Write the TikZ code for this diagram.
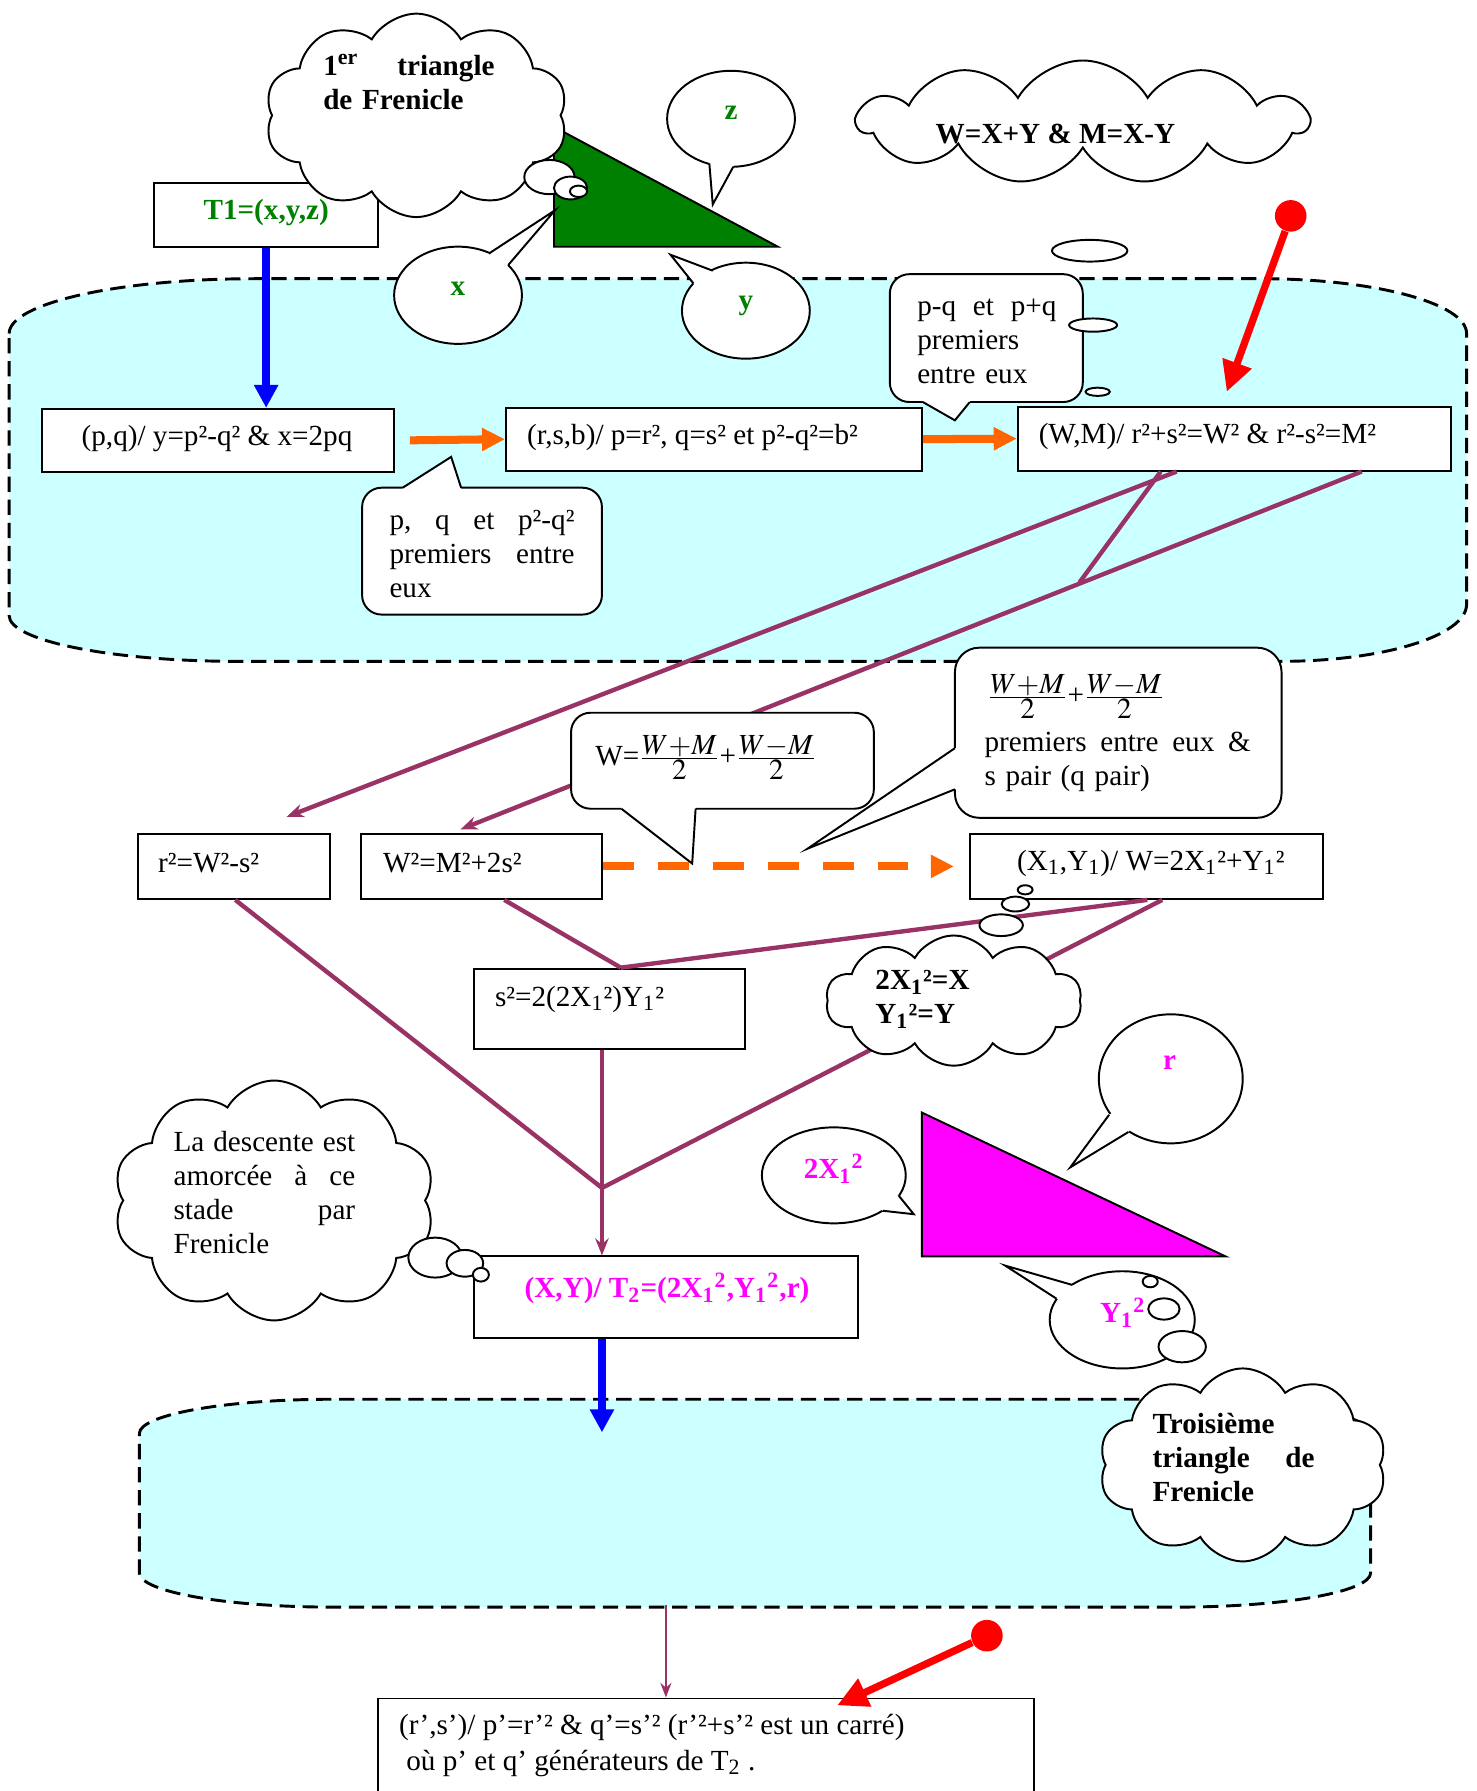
\documentclass[tikz,border=0pt]{standalone}
\usepackage{amsmath}
\usepackage{mathptmx}
\usepackage{fontspec}
\setmainfont{Liberation Serif}
\usetikzlibrary{arrows.meta,shapes.symbols,shapes.geometric,calc}

\definecolor{frgreen}{RGB}{0,128,0}
\definecolor{frmagenta}{RGB}{255,0,255}
\definecolor{frorange}{RGB}{255,102,0}
\definecolor{frpurple}{RGB}{153,51,102}
\definecolor{frcyan}{RGB}{204,255,255}

\newcommand{\halffrac}[1]{\frac{\textstyle #1}{\textstyle 2}}

\tikzset{
  zonefill/.style={fill=frcyan, draw, line width=1.2pt, dash pattern=on 6.3pt off 3.2pt},
  boxnode/.style={draw, fill=white, line width=0.8pt, inner sep=0pt},
  calloutnode/.style={draw, fill=white, line width=0.8pt, inner sep=0pt, rounded corners=8pt},
  speechnode/.style={ellipse, draw, fill=white, line width=0.8pt, inner sep=0pt},
  cloudnode/.style={cloud, cloud puffs=10, cloud puff arc=120, cloud ignores aspect, draw, fill=white, line width=0.8pt, inner sep=0pt},
  bubblepath/.style={draw, fill=white, line width=0.8pt},
  tailcover/.style={fill=white},
  tailline/.style={line width=0.8pt},
  plaintext/.style={inner sep=0pt, font=\fontsize{12}{14}\selectfont},
  boldtext/.style={inner sep=0pt, font=\fontsize{12}{14}\selectfont\bfseries},
  linkline/.style={frpurple, line width=1.8pt},
  linkarrow/.style={linkline, -{Stealth[length=7pt,width=5.5pt]}},
  bluearrow/.style={blue, line width=3pt, -{Triangle[length=9.5pt,width=9.5pt]}},
  orangearrow/.style={frorange, line width=3.3pt, -{Triangle[length=9.5pt,width=9pt]}},
  redarrow/.style={red, line width=3pt, -{Triangle[length=12.5pt,width=12pt]}},
  reddot/.style={circle, fill=red, inner sep=0pt, minimum size=13pt}
}

\begin{document}
\begin{tikzpicture}[x=0.47pt, y=-0.47pt]
\useasboundingbox (0,0) rectangle (1293,1568);

% draw the two light blue zones
\draw[zonefill] (8,292) .. controls (8,265.5) and (104,244) .. (223,244) -- (1104,244)
  .. controls (1203,244) and (1284,265.5) .. (1284,292) -- (1284,529)
  .. controls (1284,556.6) and (1211,579) .. (1121,579) -- (208,579)
  .. controls (98,579) and (8,561) .. (8,539) -- cycle;
\draw[zonefill] (122,1255) .. controls (122,1238.4) and (198,1225) .. (292,1225) -- (1030,1225)
  .. controls (1124,1225) and (1200,1238.4) .. (1200,1255) -- (1200,1377)
  .. controls (1200,1393.6) and (1124,1407) .. (1030,1407) -- (292,1407)
  .. controls (198,1407) and (122,1393.6) .. (122,1377) -- cycle;
\coordinate (zoneTop) at (527,1254);
\coordinate (zoneBot) at (583,1405);

% draw the boxes
\node[boxnode, minimum width=92.1pt, minimum height=26.3pt] (bT1) at (233,188) {};
\node[boxnode, minimum width=144.8pt, minimum height=25.9pt] (bPQ) at (191,385.5) {};
\node[boxnode, minimum width=171.1pt, minimum height=25.9pt] (bRSB) at (625,384.5) {};
\node[boxnode, minimum width=178.1pt, minimum height=26.3pt] (bWM) at (1080.5,384) {};
\node[boxnode, minimum width=79pt, minimum height=26.8pt] (bR2) at (205,758.5) {};
\node[boxnode, minimum width=99.2pt, minimum height=26.8pt] (bW2) at (421.5,758.5) {};
\node[boxnode, minimum width=145.2pt, minimum height=26.8pt] (bX1) at (1003.5,758.5) {};
\node[boxnode, minimum width=111.4pt, minimum height=32.9pt] (bS2) at (533.5,883) {};
\node[boxnode, minimum width=157.9pt, minimum height=33.4pt] (bT2) at (583,1135.5) {};
\node[boxnode, minimum width=269.8pt, minimum height=53.1pt] (bRS) at (618,1543.5) {};

% draw the two triangles
\draw[fill=frgreen, line width=0.8pt] (485,111) -- (485,216) -- (681,216) -- cycle;
\draw[fill=frmagenta, line width=0.8pt] (807,974) -- (807,1100) -- (1073,1100) -- cycle;

% draw the arrows
\draw[bluearrow] (bT1.south) -- (bT1.south |- bPQ.north);
\draw[bluearrow] (zoneTop |- bT2.south) -- (zoneTop);
\draw[orangearrow] ($(bPQ.east)+(13,0)$) -- (bRSB.west);
\draw[orangearrow] (bRSB.east) -- (bWM.west);
\draw[orangearrow, dash pattern=on 12.7pt off 9.9pt] (bW2.east) -- ($(bX1.west)+(-13,0)$);

% draw the purple links
\coordinate (kink) at (945,510);
\coordinate (jn) at (527,1040);
\draw[linkarrow] ($(bWM.south west)+(140,0)$) -- ($(bR2.north east)+(-39,-14)$);
\draw[linkline] ($(bWM.south west)+(126,0)$) -- (kink);
\draw[linkarrow] ($(bWM.south west)+(302,0)$) -- ($(bW2.north west)+(88,-3)$);
\draw[linkline] ($(bR2.south)+(1,0)$) -- (jn);
\draw[linkline] ($(bW2.south)+(20,0)$) -- ($(bS2.north)+(10,0)$);
\draw[linkline] ($(bX1.south)+(1,0)$) -- ($(bS2.north)+(10,0)$);
\draw[linkline] ($(bX1.south)+(14,0)$) -- (jn);
\draw[linkarrow] (bS2.south -| jn) -- (bT2.north -| jn);
\draw[frpurple, line width=1pt, -{Stealth[length=6pt,width=4.5pt]}] (zoneBot) -- (zoneBot |- bRS.north);

% draw the red pointers
\node[reddot] (dotA) at (1130,189) {};
\coordinate (tipA) at (1074,343);
\draw[redarrow] (dotA) -- (tipA);
\node[reddot] (dotB) at (864,1432) {};
\coordinate (tipB) at (733,1493);
\draw[redarrow] (dotB) -- (tipB);

% draw the callouts
\node[calloutnode, minimum width=98.7pt, minimum height=52.2pt] (cPQ) at (422,482.5) {};
\fill[tailcover] (352.5,427) -- (395,400) -- (403.7,427) -- (403.7,432) -- (352.5,432) -- cycle;
\draw[tailline] (352.5,427) -- (395,400) -- (403.7,427);
\node[calloutnode, minimum width=79.4pt, minimum height=52.6pt] (cPM) at (863.5,296) {};
\fill[tailcover] (808,352) -- (836,368) -- (849,352) -- (849,347) -- (808,347) -- cycle;
\draw[tailline] (808,352) -- (836,368) -- (849,352);
\node[calloutnode, minimum width=124.6pt, minimum height=39.5pt] (cW) at (632.5,666) {};
\fill[tailcover] (544,708) -- (606,756) -- (609,708) -- (609,703) -- (544,703) -- cycle;
\draw[tailline] (544,708) -- (606,756) -- (609,708);
\node[calloutnode, rounded corners=10pt, minimum width=134.4pt, minimum height=70pt] (cPE) at (979,641.5) {};
\fill[tailcover] (836,655) -- (707,743) -- (836,691) -- (841,691) -- (841,655) -- cycle;
\draw[tailline] (836,655) -- (707,743) -- (836,691);

% draw the speech bubbles
\node[speechnode, minimum width=52.6pt, minimum height=39.5pt] (eZ) at (640,104) {};
\fill[tailcover] (621,143) -- (624,179) -- (642,146) -- (642,140) -- (624,138) -- cycle;
\draw[tailline] (621,143) -- (624,179) -- (642,146);
\node[speechnode, minimum width=52.6pt, minimum height=40pt] (eX) at (401,258.5) {};
\fill[tailcover] (428,222) -- (486,184) -- (445,232) -- (440,235) -- (424,227) -- cycle;
\draw[tailline] (428,222) -- (486,184) -- (445,232);
\node[speechnode, minimum width=52.6pt, minimum height=39.5pt] (eY) at (653,272) {};
\fill[tailcover] (607,248) -- (587,223) -- (624,237) -- (628,242) -- (612,251) -- cycle;
\draw[tailline] (607,248) -- (587,223) -- (624,237);
\node[speechnode, minimum width=59.2pt, minimum height=53.1pt] (eR) at (1025,944.5) {};
\fill[tailcover] (971,976) -- (937,1022) -- (988,991) -- (992,986) -- (976,973) -- cycle;
\draw[tailline] (971,976) -- (937,1022) -- (988,991);
\node[speechnode, minimum width=59.2pt, minimum height=39.5pt] (e2X) at (730,1029) {};
\fill[tailcover] (787,1047) -- (800,1063) -- (773,1060) -- (768,1056.5) -- (781,1045) -- cycle;
\draw[tailline] (787,1047) -- (800,1063) -- (773,1060);
\node[speechnode, minimum width=59.7pt, minimum height=40pt] (eY1) at (982.5,1155.5) {};
\fill[tailcover] (939,1125) -- (880,1108) -- (925,1137) -- (931,1139) -- (944,1128) -- cycle;
\draw[tailline] (939,1125) -- (880,1108) -- (925,1137);

% draw the clouds
\node[cloudnode, minimum width=124.6pt, minimum height=83.7pt] (cl1) at (364.5,101) {};
\node[cloudnode, cloud puffs=11, minimum width=185.2pt, minimum height=50.8pt] (cl2) at (948,107) {};
\node[cloudnode, minimum width=105.3pt, minimum height=53.6pt] (cl3) at (835,876) {};
\node[cloudnode, minimum width=132.5pt, minimum height=98.7pt] (cl4) at (240,1051) {};
\node[cloudnode, minimum width=118.4pt, minimum height=79.4pt] (cl5) at (1088,1282.5) {};

% draw the small thought bubbles
\foreach \cx/\cy/\rx/\ry in {481/155/22/15, 499.5/164.6/14.5/10, 506.5/167.5/7.5/5,
  954/219.5/33/9.5, 957/284.6/21/5.8, 961/343/10.6/3.6,
  876.5/810/19/9.5, 889/791.5/12/6.5, 897.5/779/6.5/4,
  381/1101/23.5/17.5, 407/1106/16/11.7, 421/1116/7/6,
  1007/1122/6.6/5, 1019/1146/13.7/9.3, 1035/1179/20.7/13.7}
  \draw[bubblepath] (\cx,\cy) ellipse [x radius=\rx, y radius=\ry];

% write the texts
\node[boldtext, text=frgreen] (tT1) at (233,186) {T1=(x,y,z)};
\node[plaintext] (tPQ) at (190,384) {(p,q)/ y=p²-q² \& x=2pq};
\node[plaintext, anchor=west] (tRSB) at (461,383) {(r,s,b)/ p=r², q=s² et p²-q²=b²};
\node[plaintext, anchor=west] (tWM) at (909,382) {(W,M)/ r²+s²=W² \& r²-s²=M²};
\node[plaintext, anchor=west] (tR2) at (138,756) {r²=W²-s²};
\node[plaintext, anchor=west] (tW2) at (335,756) {W²=M²+2s²};
\node[plaintext, anchor=west] (tX1) at (890,756) {(X\textsubscript{1},Y\textsubscript{1})/ W=2X\textsubscript{1}²+Y\textsubscript{1}²};
\node[plaintext, anchor=west] (tS2) at (433,875) {s²=2(2X\textsubscript{1}²)Y\textsubscript{1}²};
\node[boldtext, text=frmagenta] (tT2) at (584,1128) {(X,Y)/ T\textsubscript{2}=(2X\textsubscript{1}\textsuperscript{2},Y\textsubscript{1}\textsuperscript{2},r)};
\node[plaintext, anchor=west, align=left, font=\fontsize{12}{14.6}\selectfont] (tRS) at (349,1528)
  {(r’,s’)/ p’=r’² \& q’=s’² (r’²+s’² est un carré)\\\hspace*{3pt}où p’ et q’ générateurs de T\textsubscript{2} .};

\node[boldtext, text width=70.5pt, align=left] (tC1) at (358,72) {1\textsuperscript{er}\hfill triangle\\de Frenicle};
\node[boldtext] (tC2) at (924,117) {W=X+Y \& M=X-Y};
\node[boldtext, anchor=west, align=left] (tC3) at (766,875) {2X\textsubscript{1}²=X\\Y\textsubscript{1}²=Y};
\node[plaintext, text width=74.7pt, align=left] (tC4) at (231.5,1044) {La\hfill descente\hfill est\\amorcée\hfill à\hfill ce\\stade\hfill par\\Frenicle};
\node[boldtext, text width=66.7pt, align=left] (tC5) at (1080,1276) {Troisième\\triangle\hfill de\\Frenicle};

\node[boldtext, text=frgreen] (tZ) at (640,99) {z};
\node[boldtext, text=frgreen] (tX) at (401,253) {x};
\node[boldtext, text=frgreen] (tY) at (653,268) {y};
\node[boldtext, text=frmagenta] (tR) at (1024,930) {r};
\node[boldtext, text=frmagenta] (t2X) at (730,1023) {2X\textsubscript{1}\textsuperscript{2}};
\node[boldtext, text=frmagenta] (tY1) at (983,1149) {Y\textsubscript{1}\textsuperscript{2}};

\node[plaintext, text width=76.1pt, align=left] (tPQc) at (422,485) {p,\hfill q\hfill et\hfill p²-q²\\premiers\hfill entre\\eux};
\node[plaintext, text width=57.3pt, align=left] (tPMc) at (864,299) {p-q\hfill et\hfill p+q\\premiers\\entre eux};
\node[plaintext] (tW) at (618,663) {W=$\halffrac{W{+}M}$+$\halffrac{W{-}M}$};
\node[plaintext, anchor=west] (tPE1) at (864,610) {$\halffrac{W{+}M}$+$\halffrac{W{-}M}$};
\node[plaintext, text width=109.5pt, align=left] (tPE2) at (978.5,667) {premiers\hfill entre\hfill eux\hfill \&\\s pair (q pair)};

\end{tikzpicture}
\end{document}
